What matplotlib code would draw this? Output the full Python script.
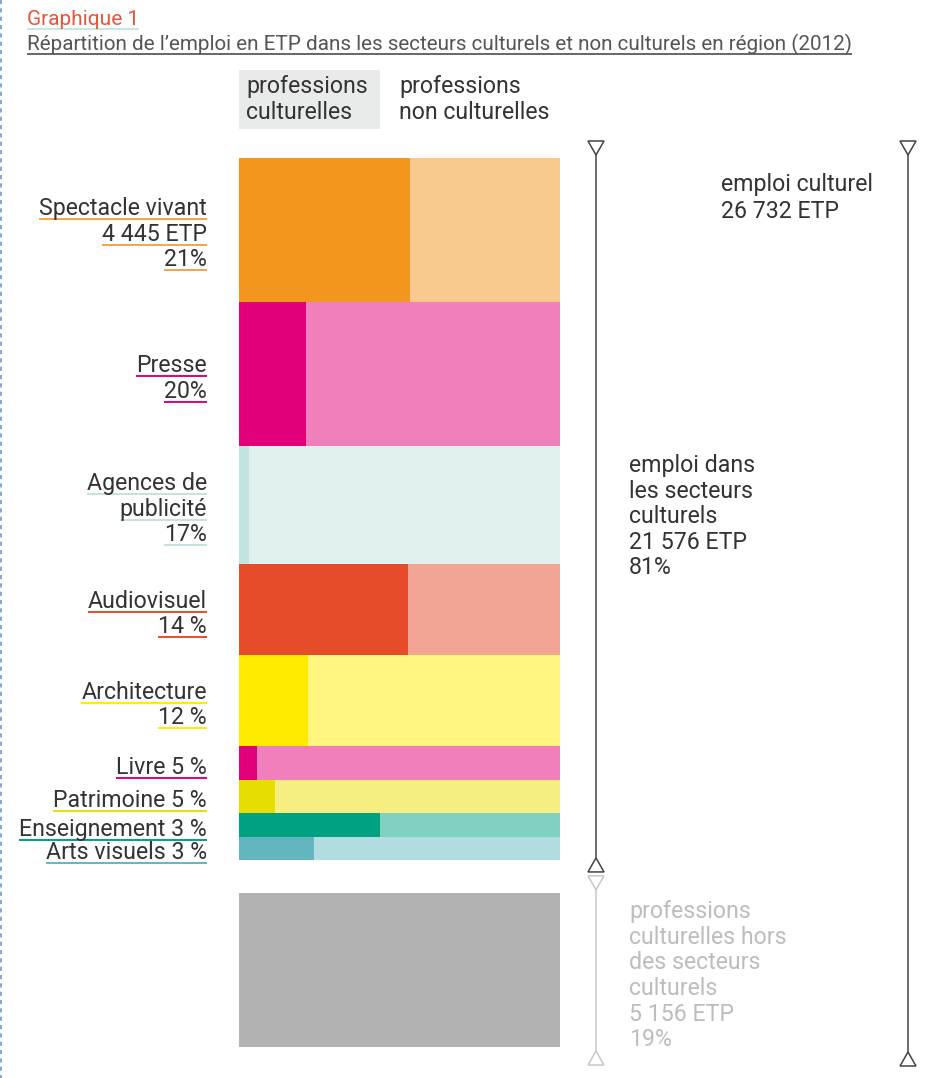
import matplotlib
matplotlib.use('Agg')
import matplotlib.pyplot as plt
from matplotlib.patches import Rectangle, Polygon

plt.rcParams['font.family'] = ['Roboto', 'DejaVu Sans']

# Data
sectors = ['Spectacle vivant', 'Presse', 'Agences de publicité', 'Audiovisuel',
           'Architecture', 'Livre', 'Patrimoine', 'Enseignement', 'Arts visuels']
label_lines = [['Spectacle vivant', '4 445 ETP', '21%'],
               ['Presse', '20%'],
               ['Agences de', 'publicité', '17%'],
               ['Audiovisuel', '14 %'],
               ['Architecture', '12 %'],
               ['Livre 5 %'],
               ['Patrimoine 5 %'],
               ['Enseignement 3 %'],
               ['Arts visuels 3 %']]
sector_share = [20.6, 20.5, 16.8, 13.1, 13.0, 4.8, 4.7, 3.4, 3.3]   # height of each band
cultural_part = [0.532, 0.208, 0.030, 0.526, 0.215, 0.056, 0.111, 0.439, 0.235]
hors_secteurs_share = 22.0   # grey block (professions culturelles hors secteurs)

dark_colors = ['#F2961E', '#E2007A', '#C3E3E0', '#E64C2A', '#FFEB00',
               '#E2007A', '#E6DE00', '#00A082', '#63B5C0']
light_colors = ['#F8CA8E', '#F07FBC', '#E0F0EF', '#F3A595', '#FFF57F',
                '#F07FBC', '#F6EE80', '#80D1C0', '#B1DDE0']
underline_colors = ['#F5A443', '#E2007A', '#C3E3E0', '#E64C2A', '#FFEB00',
                    '#E2007A', '#E6DE00', '#00A082', '#63B5C0']
grey_color = '#B2B2B3'

right_texts = ['emploi culturel', '26 732 ETP']
sector_texts = ['emploi dans', 'les secteurs', 'culturels', '21 576 ETP', '81%']
hors_texts = ['professions', 'culturelles hors', 'des secteurs', 'culturels', '5 156 ETP', '19%']

W, H = 929, 1078
fig = plt.figure(figsize=(W / 100, H / 100), dpi=100)

# bar axes: exact pixel box of the bars
bx0, bx1, by0, by1 = 239, 560, 158, 1047
gap = 4.7
total = sum(sector_share) + gap + hors_secteurs_share
ax = fig.add_axes([bx0 / W, 1 - by1 / H, (bx1 - bx0) / W, (by1 - by0) / H])
ax.set_xlim(0, 1)
ax.set_ylim(total, 0)
ax.axis('off')

tops = []
y = 0
for i, h in enumerate(sector_share):
    tops.append(y)
    ax.barh(y + h / 2, cultural_part[i], height=h, left=0, color=dark_colors[i], linewidth=0)
    ax.barh(y + h / 2, 1 - cultural_part[i], height=h, left=cultural_part[i],
            color=light_colors[i], linewidth=0)
    y += h
sectors_end = y
grey_top = sectors_end + gap
ax.barh(grey_top + hors_secteurs_share / 2, 1, height=hors_secteurs_share, left=0,
        color=grey_color, linewidth=0)

ppu = (by1 - by0) / total
def to_px(v):
    return by0 + v * ppu

# overlay axes in pixel coordinates for text and decorations
ov = fig.add_axes([0, 0, 1, 1], zorder=5)
ov.set_xlim(0, W)
ov.set_ylim(H, 0)
ov.axis('off')
ov.patch.set_alpha(0)

# left dashed border
ov.plot([1, 1], [0, H], color='#6A9BD6', lw=1.2, ls=(0, (2.5, 2.5)))

fs = 16.7
dark_text = '#333333'
underlined = []

def put(x, yc, s, color=dark_text, size=fs, ha='left', ul=None):
    base = yc + 0.711 * size * 100 / 72 / 2
    t = ov.text(x, base, s, color=color, fontsize=size, ha=ha, va='baseline')
    if ul is not None:
        underlined.append((t, base + 4, ul))
    return t

# title
put(27, 18, 'Graphique 1', color='#E8553A', size=15, ul='#C7E5E3')
put(27, 43, 'Répartition de l’emploi en ETP dans les secteurs culturels et non culturels en région (2012)',
    color='#555555', size=14.9, ul='#666666')

# legend
ov.add_patch(Rectangle((239, 70), 141, 59, color='#E9EAEA', lw=0))
put(246, 85, 'professions')
put(246, 111, 'culturelles')
put(399, 85, 'professions')
put(399, 111, 'non culturelles')

# sector labels
pitch = 25.5
for i, lines in enumerate(label_lines):
    yc = to_px(tops[i] + sector_share[i] / 2) + 2.5
    n = len(lines)
    for k, s in enumerate(lines):
        put(207, yc + (k - (n - 1) / 2) * pitch, s, ha='right', ul=underline_colors[i])

# right side texts
for k, s in enumerate(right_texts):
    put(721, 183 + k * 26.5, s)
for k, s in enumerate(sector_texts):
    put(629, 464 + k * 25.5, s)
for k, s in enumerate(hors_texts):
    put(629, 910 + k * 25.6, s, color='#BDBDBD')

# brackets
def tri_down(x, ybase, col):
    ov.add_patch(Polygon([[x - 8, ybase], [x + 8, ybase], [x, ybase + 14]],
                         closed=True, fc='white', ec=col, lw=1.1, zorder=6))

def tri_up(x, ybase, col):
    ov.add_patch(Polygon([[x - 8, ybase], [x + 8, ybase], [x, ybase - 14]],
                         closed=True, fc='white', ec=col, lw=1.1, zorder=6))

top_px = to_px(0)
sec_px = to_px(sectors_end)
gtop_px = to_px(grey_top)
gbot_px = to_px(total)

dk = '#444444'
lg = '#C8C8C8'
ov.plot([596, 596], [top_px - 3, sec_px - 2], color=dk, lw=1.1)
tri_down(596, top_px - 17, dk)
tri_up(596, sec_px + 12, dk)

ov.plot([596, 596], [gtop_px - 5, gbot_px + 8], color=lg, lw=1.1)
tri_down(596, gtop_px - 17, lg)
tri_up(596, gbot_px + 18, lg)

ov.plot([908, 908], [top_px - 3, gbot_px + 5], color=dk, lw=1.1)
tri_down(908, top_px - 17, dk)
tri_up(908, gbot_px + 19, dk)

# underlines under texts
fig.canvas.draw()
r = fig.canvas.get_renderer()
for t, yu, col in underlined:
    bb = t.get_window_extent(r)
    ov.plot([bb.x0, bb.x1], [yu, yu], color=col, lw=1.4, solid_capstyle='butt')

fig.savefig('out.png', dpi=100)
